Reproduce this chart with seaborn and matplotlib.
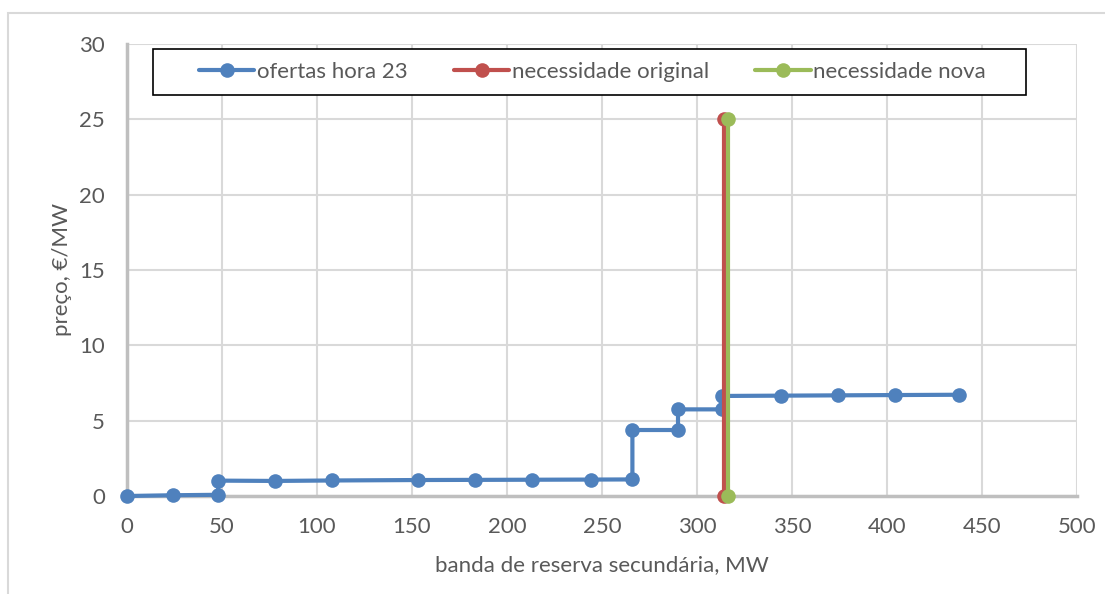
import matplotlib
matplotlib.use("Agg")
import matplotlib.pyplot as plt
from matplotlib.patches import Rectangle
import pandas as pd
import seaborn as sns

# Offer curve for hour 23 (MW, €/MW)
ofertas_x = [0, 24, 48, 48, 78, 108, 153, 183, 213, 244, 266, 266, 290, 290, 313, 313, 344, 374, 404, 438]
ofertas_y = [0, 0.05, 0.08, 1.02, 1.0, 1.03, 1.06, 1.07, 1.08, 1.09, 1.1, 4.38, 4.38, 5.75, 5.75, 6.64, 6.66, 6.68, 6.7, 6.72]

# Original and new requirement (vertical lines)
orig_x = [314, 314]
orig_y = [0, 25]
nova_x = [316.5, 316.5]
nova_y = [0, 25]

labels = ["ofertas hora 23", "necessidade original", "necessidade nova"]
colors = ["#4F81BD", "#C0504D", "#9BBB59"]

x_ticks = [0, 50, 100, 150, 200, 250, 300, 350, 400, 450, 500]
y_ticks = [0, 5, 10, 15, 20, 25, 30]

sns.set_style("white")
plt.rcParams["font.family"] = ["Lato", "DejaVu Sans"]

fig = plt.figure(figsize=(11.05, 5.94), dpi=100)
ax = fig.add_axes([127 / 1105, 1 - 496 / 594, 950 / 1105, 452 / 594])

df = pd.concat([
    pd.DataFrame({"x": ofertas_x, "y": ofertas_y, "serie": labels[0]}),
    pd.DataFrame({"x": orig_x, "y": orig_y, "serie": labels[1]}),
    pd.DataFrame({"x": nova_x, "y": nova_y, "serie": labels[2]}),
], ignore_index=True)

for lab, col in zip(labels, colors):
    sub = df[df["serie"] == lab]
    sns.lineplot(data=sub, x="x", y="y", ax=ax, sort=False, estimator=None,
                 color=col, linewidth=3.0, marker="o", markersize=10.5,
                 markeredgewidth=0, label=lab, zorder=3)

for ln in ax.get_lines():
    ln.set_clip_on(False)

ax.set_xlim(0, 500)
ax.set_ylim(0, 30)
ax.set_xticks(x_ticks)
ax.set_yticks(y_ticks)

text_col = "#595959"
ax.grid(True, color="#D9D9D9", linewidth=1.5, zorder=0)
ax.set_axisbelow(True)
for side in ["top", "right"]:
    ax.spines[side].set_visible(False)
for side in ["left", "bottom"]:
    ax.spines[side].set_color("#BFBFBF")
    ax.spines[side].set_linewidth(2.5)
    ax.spines[side].set_zorder(2)

ax.tick_params(axis="x", length=0, labelsize=16, colors=text_col, pad=15)
ax.tick_params(axis="y", length=0, labelsize=16, colors=text_col, pad=16)

ax.set_xlabel("banda de reserva secundária, MW", fontsize=16, color=text_col, labelpad=13)
ax.set_ylabel("preço, €/MW", fontsize=16, color=text_col, labelpad=5)

# Legend box drawn as its own rectangle, legend entries centred inside it
box_x0 = (153 - 127) / 950
box_x1 = (1026 - 127) / 950
box_y0 = (496 - 95) / 452
box_y1 = (496 - 49) / 452
ax.add_patch(Rectangle((box_x0, box_y0), box_x1 - box_x0, box_y1 - box_y0,
                       transform=ax.transAxes, facecolor="white",
                       edgecolor="black", linewidth=1.2, zorder=5, clip_on=False))

leg = ax.legend(loc="center", bbox_to_anchor=((box_x0 + box_x1) / 2 + 0.003, (box_y0 + box_y1) / 2),
                ncol=3, frameon=False, fontsize=16,
                handlelength=2.5, handletextpad=0.1, borderpad=0.0,
                columnspacing=2.1)
leg.set_zorder(6)
for t in leg.get_texts():
    t.set_color(text_col)

# Light outer frame around the chart area
fig.patches.append(Rectangle((8 / 1105, -0.1), 1.2, 1.1 - 13 / 594,
                             transform=fig.transFigure, fill=False,
                             edgecolor="#D9D9D9", linewidth=1.5))

fig.savefig("out.png", dpi=100)
